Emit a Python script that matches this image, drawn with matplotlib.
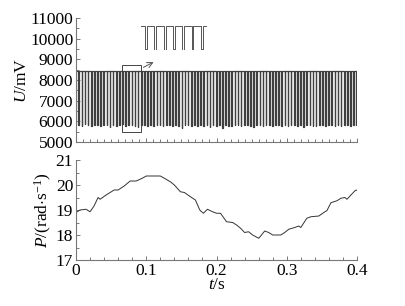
import numpy as np
import matplotlib
matplotlib.use("Agg")
import matplotlib.pyplot as plt
from matplotlib.patches import Rectangle
from matplotlib.ticker import MultipleLocator

plt.rcParams["font.family"] = ["Liberation Serif", "DejaVu Serif"]
plt.rcParams["mathtext.fontset"] = "custom"
plt.rcParams["mathtext.it"] = "Liberation Serif:italic"
plt.rcParams["mathtext.rm"] = "Liberation Serif"

# --- data -----------------------------------------------------------------
# pulse train (top panel): high level and dip minimum of each pulse
t_span = 0.4
u_high = 8420
u_dips = [
    5820, 5790, 5850, 5800, 5760, 5830, 5810, 5780, 5840, 5800,
    5720, 5830, 5790, 5810, 5850, 5770, 5800, 5830, 5780, 5740,
    5820, 5800, 5790, 5830, 5760, 5810, 5840, 5780, 5800, 5820,
    5770, 5810, 5790, 5700, 5830, 5800, 5780, 5820, 5750, 5810,
    5790, 5830, 5720, 5800, 5780, 5820, 5700, 5810, 5790, 5760,
    5830, 5800, 5780, 5810, 5840, 5790, 5740, 5820, 5800, 5780,
    5830, 5810, 5760, 5800, 5820, 5790, 5840, 5770, 5810, 5800,
    5780, 5820, 5710, 5800, 5830, 5790, 5760, 5810, 5820, 5780,
    5830, 5800, 5790, 5810, 5780, 5820, 5800, 5790, 5830, 5810,
]
low_fraction = 0.2

# P(t) (bottom panel)
t_p = [0.0, 0.0057, 0.0143, 0.02, 0.0257, 0.0314, 0.0343, 0.0429, 0.0543,
       0.06, 0.0686, 0.0771, 0.0857, 0.0943, 0.1, 0.12, 0.1257, 0.1343,
       0.14, 0.1486, 0.1543, 0.1629, 0.17, 0.1757, 0.1771, 0.1814, 0.1871,
       0.1943, 0.2, 0.2057, 0.2143, 0.2229, 0.2286, 0.2343, 0.24, 0.2457,
       0.2514, 0.26, 0.2629, 0.2686, 0.2743, 0.28, 0.2914, 0.2971, 0.3029,
       0.3114, 0.3171, 0.32, 0.3286, 0.3343, 0.3457, 0.3543, 0.3571,
       0.3629, 0.3714, 0.3771, 0.3829, 0.3857, 0.3914, 0.3971, 0.4]
p_val = [18.9, 19.0, 19.03, 18.93, 19.16, 19.5, 19.43, 19.6, 19.8,
         19.8, 19.96, 20.16, 20.16, 20.27, 20.36, 20.36, 20.27, 20.13,
         20.0, 19.73, 19.7, 19.53, 19.4, 19.03, 18.97, 18.87, 19.03,
         18.93, 18.87, 18.87, 18.53, 18.5, 18.4, 18.27, 18.1, 18.13,
         18.0, 17.87, 17.96, 18.16, 18.1, 18.0, 18.0, 18.1, 18.23,
         18.3, 18.36, 18.3, 18.67, 18.73, 18.76, 18.93, 18.97,
         19.29, 19.37, 19.47, 19.5, 19.43, 19.6, 19.77, 19.8]

# --- build step waveform from the pulse list -----------------------------
n = len(u_dips)
period = t_span / n
tw, uw = [], []
for i, low in enumerate(u_dips):
    t0 = i * period
    t_down = t0 + period * (1 - low_fraction)
    t_up = t0 + period
    tw += [t0, t_down, t_down, t_up, t_up]
    uw += [u_high, u_high, low, low, u_high]
tw = np.array(tw)
uw = np.array(uw)

W, H = 405, 306
fig = plt.figure(figsize=(W / 100, H / 100), dpi=100)
ax1 = fig.add_axes([76 / W, 1 - 142 / H, 281 / W, 124 / H])
ax2 = fig.add_axes([76 / W, 1 - 260 / H, 281 / W, 100 / H])

line_c = "#404040"
spine_c = "#777777"
fs = 12.5

ax1.plot(tw, uw, color=line_c, lw=0.9)
ax1.set_xlim(0, 0.4)
ax1.set_ylim(5000, 11000)
ax1.yaxis.set_major_locator(MultipleLocator(1000))
ax1.yaxis.set_minor_locator(MultipleLocator(500))
ax1.xaxis.set_major_locator(MultipleLocator(0.1))
ax1.xaxis.set_minor_locator(MultipleLocator(0.01))
ax1.tick_params(axis="x", labelbottom=False)
ax1.set_ylabel(r"$U$/mV", fontsize=fs, labelpad=0)

ax2.plot(t_p, p_val, color="#333333", lw=0.7)
ax2.set_xlim(0, 0.4)
ax2.set_ylim(17, 21)
ax2.yaxis.set_major_locator(MultipleLocator(1))
ax2.yaxis.set_minor_locator(MultipleLocator(0.5))
ax2.xaxis.set_major_locator(MultipleLocator(0.1))
ax2.xaxis.set_minor_locator(MultipleLocator(0.02))
ax2.xaxis.set_major_formatter(plt.FuncFormatter(lambda v, _: "0" if v == 0 else f"{v:.1f}"))
ax2.set_ylabel(r"$P$/(rad$\cdot$s$^{-1}$)", fontsize=fs, labelpad=1)
ax2.set_xlabel(r"$t$/s", fontsize=fs, labelpad=-1)

for ax in (ax1, ax2):
    for s in ("top", "right"):
        ax.spines[s].set_visible(False)
    for s in ("left", "bottom"):
        ax.spines[s].set_color(spine_c)
        ax.spines[s].set_linewidth(0.8)
    ax.tick_params(which="both", direction="in", color=spine_c, labelsize=fs,
                   pad=2, width=0.7)
    ax.tick_params(which="major", length=3)
    ax.tick_params(which="minor", length=2)

# zoom box, arrow and inset
box_t0, box_t1 = 0.0653, 0.0924
ax1.add_patch(Rectangle((box_t0, 5500), box_t1 - box_t0, 3220, fill=False,
                        ec="#444444", lw=0.7))
ax1.annotate("", xy=(0.114, 8930), xytext=(box_t1, 8550),
             arrowprops=dict(arrowstyle="->", color="#555555", lw=0.7))

axi = fig.add_axes([141 / W, 1 - 50 / H, 66 / W, 24 / H])
axi.plot(tw, uw, color="#555555", lw=0.7)
axi.set_xlim(box_t0 - 0.0015, box_t1 + 0.003)
axi.set_ylim(5750, 8450)
axi.axis("off")

fig.savefig("out.png", dpi=100)
